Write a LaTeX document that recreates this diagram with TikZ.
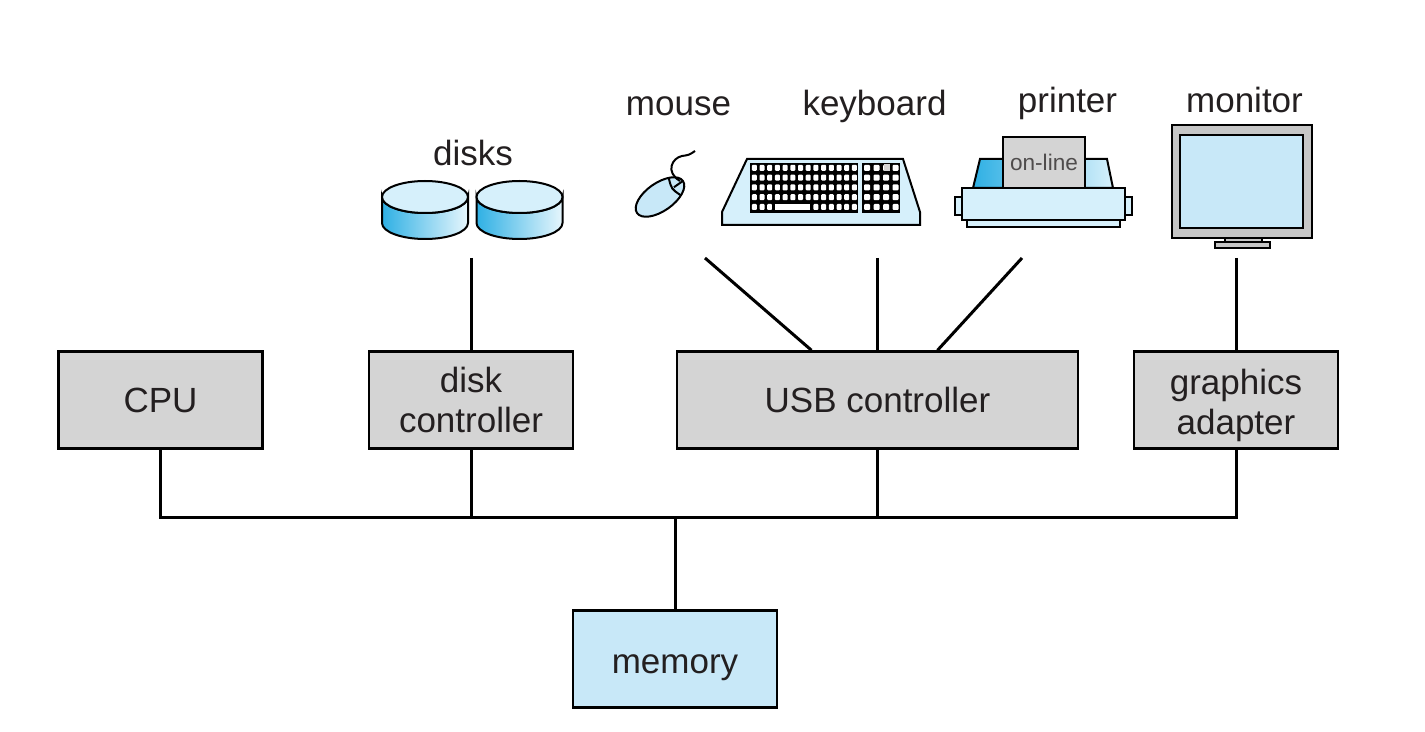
\documentclass[tikz,border=0pt]{standalone}
\usepackage{fontspec}
\setmainfont{Liberation Sans}
\definecolor{boxgrey}{HTML}{D4D4D4}
\definecolor{framegrey}{HTML}{C6C6C6}
\definecolor{memblue}{HTML}{C8E8F8}
\definecolor{lightblue}{HTML}{D6F0FB}
\definecolor{deepblue}{HTML}{2FB0E4}
\definecolor{inkgrey}{HTML}{231F20}
\begin{document}
\begin{tikzpicture}[x=0.5pt,y=-0.5pt,
  unit/.style={draw, line width=1.2pt, fill=boxgrey, minimum width=102pt, minimum height=48.5pt, inner sep=0pt, text depth=0pt, align=center, text=inkgrey, font=\fontsize{17.5pt}{20pt}\selectfont},
  devname/.style={anchor=base, text=inkgrey, font=\fontsize{17.5pt}{20pt}\selectfont},
  wire/.style={line width=1.5pt},
  device/.style={line width=1pt}]
\useasboundingbox (0,0) rectangle (1425,732);
\node[unit] (cpu) at (160.5,400){CPU};
\node[unit] (dctl) at (471,400){disk\\controller};
\node[unit, minimum width=200.5pt] (usb) at (877.5,400){USB controller};
\node[unit, text height=34.5pt] (gfx) at (1236,400){graphics\\adapter};
\node[unit, fill=memblue, text height=14pt] (mem) at (675,659){memory};
\coordinate (bus) at (0,518);
\draw[wire](cpu.south) |- (gfx.south |- bus) -- (gfx.south);
\draw[wire](dctl.south) -- (dctl.south |- bus);
\draw[wire](usb.south) -- (usb.south |- bus);
\draw[wire](mem.north) -- (mem.north |- bus);
\foreach \cx in {425,519.5}{
  \path[device, draw, left color=deepblue, right color=lightblue!60!white] (\cx-43,197) -- (\cx-43,223) arc[start angle=180, end angle=360, x radius=21.5pt, y radius=8pt] -- (\cx+43,197) arc[start angle=0, end angle=-180, x radius=21.5pt, y radius=8pt] -- cycle;
  \draw[device, fill=lightblue] (\cx,197) ellipse[x radius=21.5pt, y radius=8pt];
}
\node[devname] (disks) at (473,166){disks};
\coordinate (diskport) at (471,258);
\draw[wire](diskport) -- (dctl.north);
\draw[device, fill=memblue, rotate around={35:(660,197)}] (660,197) ellipse[x radius=14pt, y radius=7pt];
\draw[device, rotate around={35:(660,197)}] (678,186.5) .. controls (674,197) .. (678,207.5) (677,197) -- (688,197);
\draw[device] (680,181) .. controls (665,172) and (672,158) .. (682,156) .. controls (689,155) .. (695,151);
\node[devname] (mouse) at (678.5,116){mouse};
\coordinate (mouseport) at (705,258);
\draw[wire](mouseport) -- ([xshift=-33pt]usb.north);
\draw[device, fill=lightblue] (747,159) -- (903,159) -- (920,212) -- (920,225) -- (722,225) -- (722,212) -- cycle;
\fill (750,163) rectangle (858,213);
\fill (862,163) rectangle (900,213);
\foreach \r in {0,...,4}
  \foreach \c in {0,...,13}
    \fill[white, rounded corners=0.5pt] (751.8+7.7*\c,164.8+9.8*\r) rectangle ++(5,6);
\fill (772,203) rectangle (812,212);
\fill[white] (774.5,204.5) rectangle (809.5,210.5);
\foreach \r in {0,...,4}
  \foreach \c in {0,...,3}
    \fill[white, rounded corners=0.5pt] (864,164.8+9.8*\r) ++(9.5*\c,0) rectangle ++(6,6);
\fill[boxgrey] (883.5,164.5) rectangle (889.5,171.5);
\node[devname] (keyboard) at (874.5,116){keyboard};
\coordinate (kbdport) at (877.5,258);
\draw[wire](kbdport) -- (usb.north);
\path[device, draw, left color=deepblue, right color=lightblue] (973,188) -- (980,159) -- (1107,159) -- (1113,188) -- cycle;
\draw[device, fill=boxgrey] (1003,137) rectangle (1085,188);
\node[text=inkgrey!80, font=\fontsize{11.3pt}{13pt}\selectfont] (online) at (1044,162){on-line};
\draw[device, fill=lightblue] (962,188) rectangle (1125,220);
\draw[device, fill=lightblue] (955,197) rectangle (962,215);
\draw[device, fill=lightblue] (1125,197) rectangle (1132,215);
\draw[device, fill=lightblue] (967,220) rectangle (1120,227);
\node[devname] (printer) at (1067.5,113){printer};
\coordinate (prnport) at (1022,258);
\draw[wire](prnport) -- ([xshift=30pt]usb.north);
\draw[device, fill=framegrey] (1172,125) rectangle (1312,238);
\draw[device, fill=memblue] (1180,135) rectangle (1303,228);
\draw[device, fill=framegrey] (1225,238) rectangle (1262,242);
\draw[device, fill=framegrey] (1215,242) rectangle (1270,248);
\node[devname] (monitor) at (1244.5,113){monitor};
\coordinate (monport) at (1236,258);
\draw[wire](monport) -- (gfx.north);
\end{tikzpicture}
\end{document}
